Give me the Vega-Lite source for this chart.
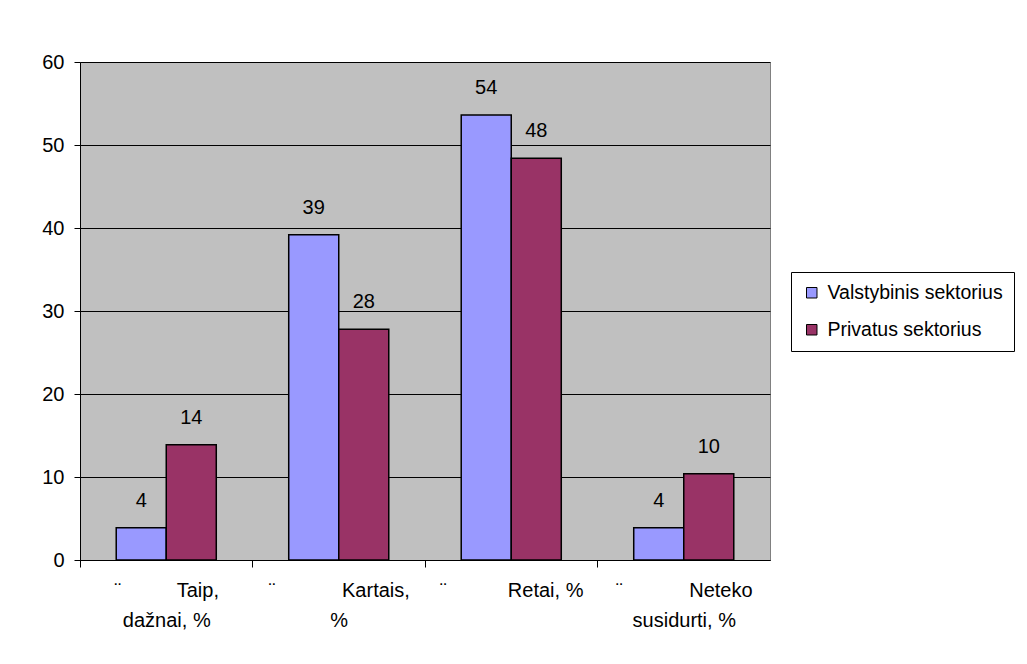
{
  "$schema": "https://vega.github.io/schema/vega-lite/v6.json",
  "width": 690,
  "height": 498,
  "autosize": {"type": "none"},
  "padding": {"left": 80, "top": 62, "right": 257, "bottom": 104},
  "background": "white",
  "config": {
    "font": "Liberation Sans",
    "view": {"stroke": "#808080", "strokeWidth": 1, "fill": "#C0C0C0"},
    "axis": {"labelColor": "black", "labelFont": "Liberation Sans", "labelFontSize": 20},
    "legend": {"labelFont": "Liberation Sans"}
  },
  "data": {
    "values": [
      {"cat": "Taip, dažnai, %", "series": "Valstybinis sektorius", "value": 3.9},
      {"cat": "Taip, dažnai, %", "series": "Privatus sektorius", "value": 13.9},
      {"cat": "Kartais, %", "series": "Valstybinis sektorius", "value": 39.2},
      {"cat": "Kartais, %", "series": "Privatus sektorius", "value": 27.8},
      {"cat": "Retai, %", "series": "Valstybinis sektorius", "value": 53.6},
      {"cat": "Retai, %", "series": "Privatus sektorius", "value": 48.4},
      {"cat": "Neteko susidurti, %", "series": "Valstybinis sektorius", "value": 3.9},
      {"cat": "Neteko susidurti, %", "series": "Privatus sektorius", "value": 10.4}
    ]
  },
  "encoding": {
    "x": {
      "field": "cat",
      "type": "nominal",
      "sort": ["Taip, dažnai, %", "Kartais, %", "Retai, %", "Neteko susidurti, %"],
      "scale": {"paddingInner": 0.42, "paddingOuter": 0.21},
      "axis": {
        "title": null,
        "bandPosition": 0,
        "tickOffset": -36.25,
        "labelOffset": 36.25,
        "labelAngle": 0,
        "labelAlign": "center",
        "labelBaseline": "top",
        "tickSize": 7,
        "tickColor": "black",
        "domainColor": "black",
        "labelFontSize": 20,
        "labelLineHeight": 30,
        "labelPadding": 13,
        "labelLimit": 0,
        "labelExpr": "datum.value == 'Taip, dažnai, %' ? ['¨\u00a0\u00a0\u00a0\u00a0\u00a0\u00a0\u00a0\u00a0\u00a0\u00a0Taip,', 'dažnai, %'] : datum.value == 'Kartais, %' ? ['¨\u00a0\u00a0\u00a0\u00a0\u00a0\u00a0\u00a0\u00a0\u00a0\u00a0\u00a0\u00a0Kartais,', '%'] : datum.value == 'Retai, %' ? ['¨\u00a0\u00a0\u00a0\u00a0\u00a0\u00a0\u00a0\u00a0\u00a0\u00a0\u00a0Retai, %'] : ['¨\u00a0\u00a0\u00a0\u00a0\u00a0\u00a0\u00a0\u00a0\u00a0\u00a0\u00a0\u00a0Neteko', 'susidurti, %']"
      }
    },
    "xOffset": {
      "field": "series",
      "type": "nominal",
      "sort": ["Valstybinis sektorius", "Privatus sektorius"],
      "scale": {"paddingInner": 0, "paddingOuter": 0}
    },
    "y": {
      "field": "value",
      "type": "quantitative",
      "scale": {"domain": [0, 60], "nice": false},
      "axis": {
        "title": null,
        "values": [0, 10, 20, 30, 40, 50, 60],
        "grid": true,
        "gridColor": "black",
        "gridOpacity": 1,
        "tickColor": "black",
        "domainColor": "black",
        "tickSize": 6,
        "labelPadding": 10,
        "labelFontSize": 20
      }
    }
  },
  "layer": [
    {
      "mark": {"type": "bar", "stroke": "black", "strokeWidth": 1.5, "opacity": 1},
      "encoding": {
        "color": {
          "field": "series",
          "type": "nominal",
          "sort": ["Valstybinis sektorius", "Privatus sektorius"],
          "scale": {"domain": ["Valstybinis sektorius", "Privatus sektorius"], "range": ["#9999FF", "#993366"]},
          "legend": {
            "title": null,
            "orient": "none",
            "legendX": 711,
            "legendY": 210,
            "strokeColor": "black",
            "fillColor": "white",
            "padding": 11,
            "symbolType": "square",
            "symbolSize": 110,
            "symbolStrokeColor": "black",
            "symbolStrokeWidth": 1,
            "symbolOpacity": 1,
            "labelFontSize": 19.5,
            "labelLimit": 0,
            "labelColor": "black",
            "rowPadding": 16,
            "labelOffset": 6
          }
        }
      }
    },
    {
      "mark": {"type": "text", "baseline": "middle", "align": "center", "dy": -27, "fontSize": 20, "color": "black"},
      "encoding": {
        "text": {"field": "value", "type": "quantitative", "format": ".0f"}
      }
    }
  ]
}
